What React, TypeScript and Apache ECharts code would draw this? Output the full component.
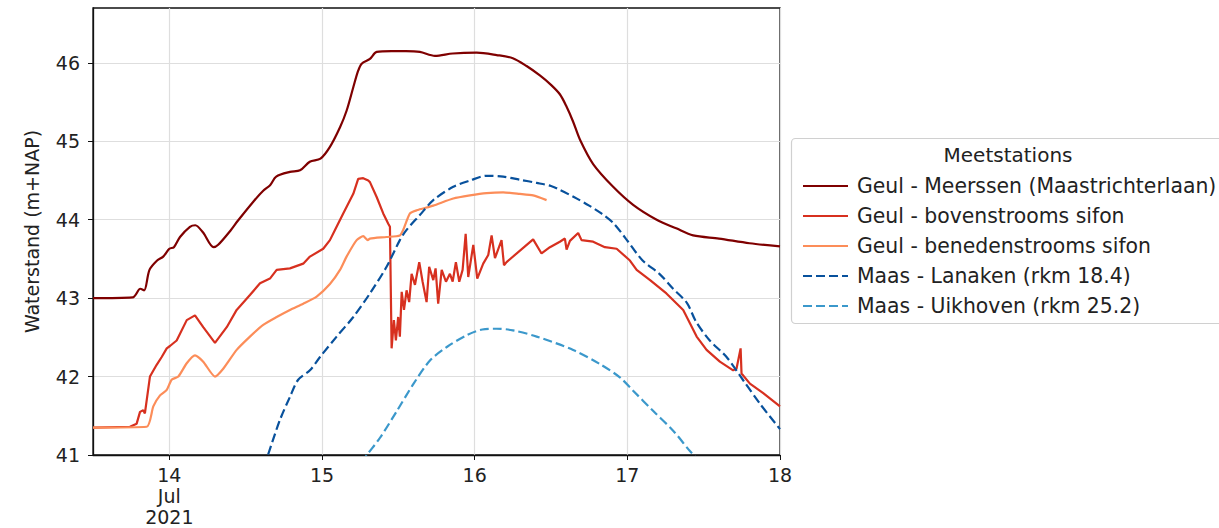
import React, { useEffect, useRef } from "react";
import * as echarts from "echarts";

// ---- Data (day of July 2021, water level m+NAP) ----
const meerssenT = [13.5, 13.76, 13.81, 13.835, 13.87, 13.92, 13.96, 14.0, 14.03, 14.07, 14.135, 14.17, 14.22, 14.29, 14.32, 14.4, 14.45, 14.55, 14.615, 14.66, 14.7, 14.79, 14.856, 14.92, 14.99, 15.052, 15.118, 15.161, 15.205, 15.237, 15.26, 15.314, 15.358, 15.456, 15.55, 15.641, 15.74, 15.857, 16.013, 16.144, 16.25, 16.34, 16.427, 16.5, 16.558, 16.6, 16.645, 16.69, 16.776, 16.907, 17.038, 17.192, 17.32, 17.431, 17.6, 17.8, 18.0];
const meerssenH = [43.0, 43.01, 43.12, 43.1, 43.36, 43.48, 43.53, 43.63, 43.65, 43.78, 43.91, 43.93, 43.84, 43.65, 43.68, 43.86, 43.99, 44.23, 44.37, 44.44, 44.55, 44.61, 44.63, 44.74, 44.78, 44.93, 45.18, 45.39, 45.69, 45.9, 45.99, 46.05, 46.14, 46.15, 46.15, 46.14, 46.09, 46.12, 46.13, 46.1, 46.06, 45.96, 45.84, 45.72, 45.6, 45.45, 45.25, 45.02, 44.71, 44.42, 44.19, 44.0, 43.89, 43.8, 43.76, 43.7, 43.66];

const bovenT = [13.5, 13.742, 13.786, 13.808, 13.829, 13.84, 13.873, 13.917, 13.95, 13.983, 14.004, 14.048, 14.114, 14.168, 14.222, 14.299, 14.376, 14.441, 14.528, 14.594, 14.659, 14.703, 14.79, 14.877, 14.921, 15.008, 15.052, 15.085, 15.139, 15.205, 15.237, 15.27, 15.303, 15.314, 15.358, 15.401, 15.434, 15.445, 15.456, 15.471, 15.484, 15.499, 15.51, 15.522, 15.537, 15.554, 15.571, 15.587, 15.609, 15.637, 15.659, 15.685, 15.702, 15.729, 15.744, 15.761, 15.784, 15.812, 15.838, 15.856, 15.877, 15.899, 15.921, 15.941, 15.958, 15.991, 16.017, 16.056, 16.089, 16.111, 16.133, 16.176, 16.192, 16.209, 16.383, 16.438, 16.493, 16.558, 16.591, 16.602, 16.624, 16.678, 16.7, 16.776, 16.853, 16.93, 17.017, 17.061, 17.149, 17.256, 17.366, 17.454, 17.519, 17.606, 17.693, 17.715, 17.742, 17.748, 17.803, 17.89, 18.0];
const bovenH = [41.35, 41.36, 41.4, 41.55, 41.57, 41.53, 42.0, 42.15, 42.25, 42.36, 42.39, 42.46, 42.72, 42.78, 42.63, 42.43, 42.63, 42.85, 43.04, 43.19, 43.25, 43.36, 43.38, 43.44, 43.53, 43.63, 43.74, 43.87, 44.08, 44.33, 44.52, 44.53, 44.5, 44.48, 44.29, 44.08, 43.95, 43.91, 42.36, 42.72, 42.46, 42.76, 42.51, 43.08, 42.85, 43.1, 42.95, 43.31, 43.17, 43.46, 43.21, 42.95, 43.4, 43.23, 43.38, 42.93, 43.36, 43.21, 43.31, 43.21, 43.46, 43.21, 43.36, 43.82, 43.27, 43.68, 43.25, 43.44, 43.55, 43.8, 43.51, 43.74, 43.42, 43.46, 43.75, 43.57, 43.65, 43.72, 43.76, 43.62, 43.73, 43.83, 43.74, 43.72, 43.65, 43.63, 43.48, 43.36, 43.23, 43.06, 42.85, 42.51, 42.34, 42.19, 42.08, 42.1, 42.36, 42.04, 41.91, 41.79, 41.62];

const benedenT = [13.5, 13.852, 13.895, 13.939, 13.983, 14.015, 14.059, 14.114, 14.168, 14.222, 14.299, 14.353, 14.441, 14.528, 14.615, 14.703, 14.79, 14.877, 14.965, 15.052, 15.118, 15.161, 15.227, 15.27, 15.3, 15.314, 15.423, 15.51, 15.532, 15.576, 15.62, 15.729, 15.86, 15.969, 16.078, 16.187, 16.296, 16.383, 16.471];
const benedenH = [41.35, 41.36, 41.62, 41.76, 41.83, 41.96, 42.0, 42.17, 42.27, 42.19, 42.0, 42.1, 42.34, 42.51, 42.66, 42.76, 42.85, 42.93, 43.02, 43.18, 43.36, 43.53, 43.74, 43.79, 43.74, 43.76, 43.78, 43.8, 43.87, 44.08, 44.12, 44.18, 44.27, 44.31, 44.34, 44.35, 44.33, 44.31, 44.25];

const lanakenT = [14.62, 14.646, 14.725, 14.79, 14.844, 14.921, 14.987, 15.096, 15.205, 15.314, 15.423, 15.51, 15.554, 15.641, 15.729, 15.86, 15.969, 16.078, 16.187, 16.296, 16.406, 16.5, 16.558, 16.65, 16.75, 16.83, 16.907, 16.99, 17.1, 17.21, 17.3, 17.39, 17.45, 17.54, 17.65, 17.76, 17.87, 18.0];
const lanakenH = [40.85, 41.0, 41.45, 41.74, 41.96, 42.08, 42.25, 42.51, 42.76, 43.06, 43.4, 43.74, 43.87, 44.06, 44.25, 44.42, 44.5, 44.56, 44.55, 44.51, 44.47, 44.43, 44.38, 44.29, 44.18, 44.08, 43.96, 43.76, 43.48, 43.31, 43.12, 42.94, 42.7, 42.46, 42.25, 41.95, 41.65, 41.33];

const uikhovenT = [15.26, 15.294, 15.38, 15.49, 15.6, 15.71, 15.82, 15.95, 16.05, 16.144, 16.25, 16.406, 16.645, 16.82, 16.951, 17.038, 17.17, 17.3, 17.41, 17.45];
const uikhovenH = [40.9, 41.0, 41.22, 41.56, 41.91, 42.21, 42.38, 42.53, 42.6, 42.61, 42.59, 42.51, 42.34, 42.16, 41.99, 41.82, 41.56, 41.31, 41.05, 40.97];

const xTicks = [14, 15, 16, 17, 18];
const yTicks = [41, 42, 43, 44, 45, 46];
const seriesNames = [
  "Geul - Meerssen (Maastrichterlaan)",
  "Geul - bovenstrooms sifon",
  "Geul - benedenstrooms sifon",
  "Maas - Lanaken (rkm 18.4)",
  "Maas - Uikhoven (rkm 25.2)",
];

const zip = (t: number[], h: number[]) => t.map((v, i) => [v, h[i]]);

const FONT = "DejaVu Sans";

export default function App() {
  const ref = useRef<HTMLDivElement>(null);
  useEffect(() => {
    if (!ref.current) return;
    const chart = echarts.init(ref.current, undefined, { renderer: "svg" });
    const mk = (name: string, data: number[][], color: string, dashed: boolean, smooth: number | boolean) => ({
      name,
      type: "line",
      data,
      showSymbol: false,
      symbol: "none",
      smooth,
      clip: true,
      lineStyle: { color, width: 2.2, type: dashed ? [9, 4] : "solid" },
      itemStyle: { color },
      emphasis: { disabled: true },
    });
    chart.setOption({
      animation: false,
      grid: { left: 93, right: 439, top: 8, bottom: 73, show: true, borderColor: "#111", borderWidth: 1.3, backgroundColor: "transparent" },
      xAxis: {
        type: "value",
        min: 13.5,
        max: 18,
        axisLine: { show: true, lineStyle: { color: "#111", width: 1.3 } },
        axisTick: { show: true, length: 5, customValues: xTicks, lineStyle: { color: "#111" } },
        axisLabel: {
          customValues: xTicks,
          fontFamily: FONT,
          fontSize: 19,
          lineHeight: 21,
          color: "#222",
          margin: 9,
          showMinLabel: true,
          showMaxLabel: true,
          formatter: (v: number) => (v === 14 ? "14\nJul\n2021" : String(v)),
        },
        splitLine: { show: true, lineStyle: { color: "#dedede", width: 1.2 } },
      },
      yAxis: {
        type: "value",
        min: 41,
        max: 46.7,
        name: "Waterstand (m+NAP)",
        nameLocation: "middle",
        nameGap: 52,
        nameTextStyle: { fontFamily: FONT, fontSize: 19, color: "#222" },
        axisLine: { show: true, lineStyle: { color: "#111", width: 1.3 } },
        axisTick: { show: true, length: 5, customValues: yTicks, lineStyle: { color: "#111" } },
        axisLabel: {
          customValues: yTicks,
          fontFamily: FONT,
          fontSize: 19,
          color: "#222",
          margin: 13,
        },
        splitLine: { show: true, lineStyle: { color: "#dedede", width: 1.2 } },
      },
      legend: {
        orient: "vertical",
        left: 797,
        top: 170,
        itemWidth: 45,
        itemHeight: 14,
        itemGap: 8,
        selectedMode: false,
        data: seriesNames,
        itemStyle: { color: "rgba(0,0,0,0)", borderWidth: 0, opacity: 0 },
        textStyle: { fontFamily: FONT, fontSize: 20.4, color: "#222", lineHeight: 22, padding: [0, 0, 0, 4] },
      },
      graphic: [
        {
          type: "rect",
          shape: { x: 791.5, y: 138.5, width: 440, height: 185, r: 4 },
          style: { fill: "#fff", stroke: "#d0d0d0", lineWidth: 1.2 },
          z: -1,
          silent: true,
        },
        {
          type: "text",
          x: 1008,
          y: 155,
          style: { text: "Meetstations", fontFamily: FONT, fontSize: 20, fill: "#222", align: "center", verticalAlign: "middle" },
          silent: true,
        },
      ],
      series: [
        mk(seriesNames[0], zip(meerssenT, meerssenH), "#7f0000", false, 0.3),
        mk(seriesNames[1], zip(bovenT, bovenH), "#d7301f", false, false),
        mk(seriesNames[2], zip(benedenT, benedenH), "#fc8d59", false, 0.2),
        mk(seriesNames[3], zip(lanakenT, lanakenH), "#08519c", true, 0.3),
        mk(seriesNames[4], zip(uikhovenT, uikhovenH), "#3b98cb", true, 0.3),
      ],
    });
    return () => chart.dispose();
  }, []);
  return <div ref={ref} style={{ width: 1219, height: 528, position: "absolute", left: 0, top: 0 }} />;
}
